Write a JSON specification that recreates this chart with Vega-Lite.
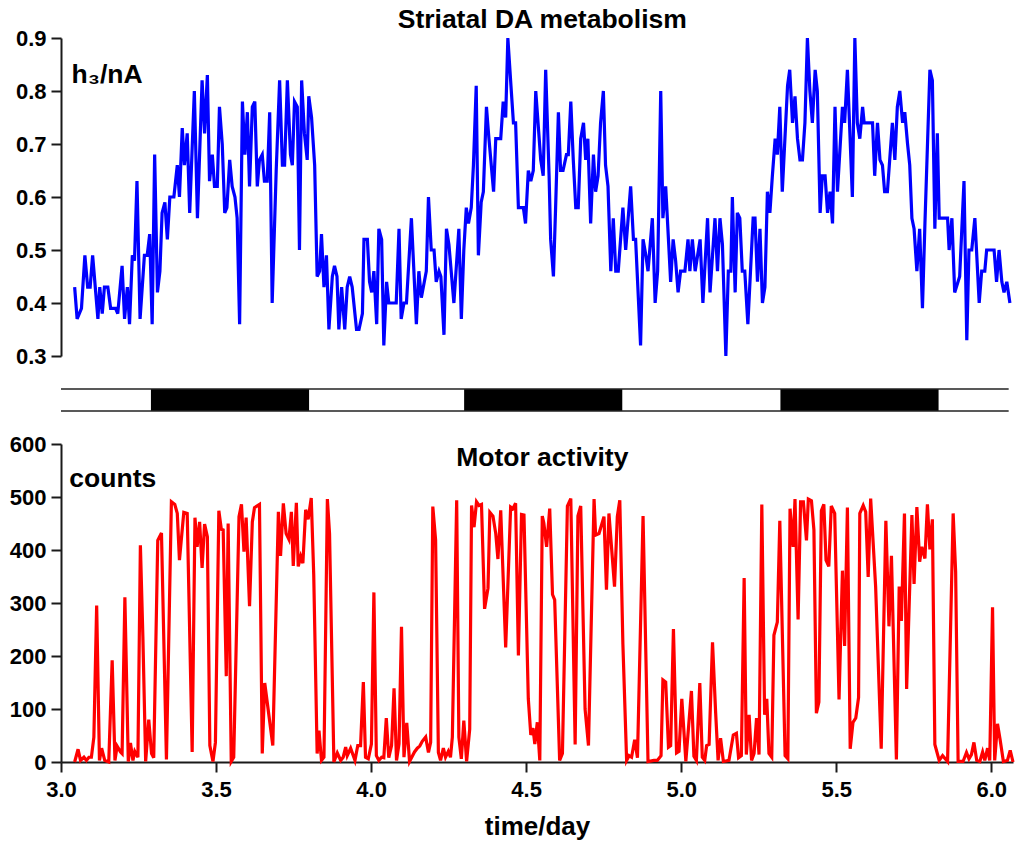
{
  "$schema": "https://vega.github.io/schema/vega-lite/v6.json",
  "background": "white",
  "padding": {"left": 9, "top": 6, "right": 5, "bottom": 5},
  "spacing": 33,
  "bounds": "flush",
  "datasets": {
    "da": [
      {"t":3.044,"v":0.43},{"t":3.052,"v":0.37},{"t":3.066,"v":0.39},{"t":3.077,"v":0.49},{"t":3.086,"v":0.43},{"t":3.094,"v":0.43},{"t":3.102,"v":0.49},{"t":3.119,"v":0.37},{"t":3.125,"v":0.43},{"t":3.133,"v":0.38},{"t":3.140,"v":0.43},{"t":3.151,"v":0.43},{"t":3.160,"v":0.39},{"t":3.176,"v":0.39},{"t":3.183,"v":0.38},{"t":3.197,"v":0.47},{"t":3.205,"v":0.37},{"t":3.214,"v":0.43},{"t":3.221,"v":0.36},{"t":3.230,"v":0.49},{"t":3.237,"v":0.48},{"t":3.245,"v":0.63},{"t":3.255,"v":0.37},{"t":3.269,"v":0.49},{"t":3.278,"v":0.49},{"t":3.286,"v":0.53},{"t":3.294,"v":0.36},{"t":3.302,"v":0.68},{"t":3.311,"v":0.42},{"t":3.319,"v":0.46},{"t":3.326,"v":0.57},{"t":3.335,"v":0.59},{"t":3.343,"v":0.52},{"t":3.351,"v":0.60},{"t":3.364,"v":0.60},{"t":3.375,"v":0.66},{"t":3.382,"v":0.60},{"t":3.391,"v":0.73},{"t":3.398,"v":0.66},{"t":3.407,"v":0.72},{"t":3.415,"v":0.57},{"t":3.430,"v":0.80},{"t":3.440,"v":0.56},{"t":3.455,"v":0.82},{"t":3.463,"v":0.72},{"t":3.472,"v":0.83},{"t":3.479,"v":0.63},{"t":3.488,"v":0.68},{"t":3.495,"v":0.62},{"t":3.504,"v":0.62},{"t":3.511,"v":0.77},{"t":3.520,"v":0.70},{"t":3.528,"v":0.57},{"t":3.535,"v":0.58},{"t":3.544,"v":0.67},{"t":3.552,"v":0.62},{"t":3.561,"v":0.60},{"t":3.568,"v":0.56},{"t":3.576,"v":0.36},{"t":3.585,"v":0.78},{"t":3.593,"v":0.68},{"t":3.601,"v":0.76},{"t":3.608,"v":0.62},{"t":3.617,"v":0.77},{"t":3.625,"v":0.78},{"t":3.633,"v":0.62},{"t":3.640,"v":0.67},{"t":3.649,"v":0.68},{"t":3.656,"v":0.63},{"t":3.665,"v":0.63},{"t":3.673,"v":0.76},{"t":3.681,"v":0.40},{"t":3.694,"v":0.65},{"t":3.705,"v":0.82},{"t":3.714,"v":0.66},{"t":3.721,"v":0.66},{"t":3.730,"v":0.82},{"t":3.740,"v":0.68},{"t":3.746,"v":0.66},{"t":3.753,"v":0.78},{"t":3.762,"v":0.77},{"t":3.769,"v":0.50},{"t":3.776,"v":0.82},{"t":3.785,"v":0.72},{"t":3.794,"v":0.67},{"t":3.799,"v":0.79},{"t":3.808,"v":0.75},{"t":3.818,"v":0.66},{"t":3.826,"v":0.45},{"t":3.834,"v":0.46},{"t":3.840,"v":0.53},{"t":3.848,"v":0.43},{"t":3.856,"v":0.49},{"t":3.864,"v":0.35},{"t":3.875,"v":0.45},{"t":3.882,"v":0.47},{"t":3.890,"v":0.45},{"t":3.896,"v":0.35},{"t":3.905,"v":0.43},{"t":3.915,"v":0.35},{"t":3.923,"v":0.43},{"t":3.931,"v":0.45},{"t":3.939,"v":0.43},{"t":3.953,"v":0.35},{"t":3.961,"v":0.35},{"t":3.972,"v":0.38},{"t":3.977,"v":0.52},{"t":3.988,"v":0.52},{"t":3.995,"v":0.44},{"t":4.002,"v":0.42},{"t":4.009,"v":0.46},{"t":4.018,"v":0.36},{"t":4.025,"v":0.54},{"t":4.034,"v":0.52},{"t":4.041,"v":0.32},{"t":4.050,"v":0.44},{"t":4.057,"v":0.40},{"t":4.081,"v":0.40},{"t":4.090,"v":0.54},{"t":4.097,"v":0.37},{"t":4.106,"v":0.40},{"t":4.114,"v":0.40},{"t":4.130,"v":0.56},{"t":4.146,"v":0.36},{"t":4.154,"v":0.46},{"t":4.162,"v":0.41},{"t":4.178,"v":0.46},{"t":4.185,"v":0.60},{"t":4.194,"v":0.50},{"t":4.203,"v":0.50},{"t":4.210,"v":0.44},{"t":4.219,"v":0.46},{"t":4.225,"v":0.45},{"t":4.235,"v":0.34},{"t":4.243,"v":0.54},{"t":4.251,"v":0.51},{"t":4.267,"v":0.40},{"t":4.283,"v":0.54},{"t":4.291,"v":0.37},{"t":4.299,"v":0.50},{"t":4.307,"v":0.58},{"t":4.314,"v":0.55},{"t":4.323,"v":0.58},{"t":4.330,"v":0.66},{"t":4.339,"v":0.81},{"t":4.346,"v":0.49},{"t":4.355,"v":0.59},{"t":4.362,"v":0.61},{"t":4.372,"v":0.77},{"t":4.380,"v":0.71},{"t":4.395,"v":0.61},{"t":4.402,"v":0.71},{"t":4.418,"v":0.71},{"t":4.426,"v":0.78},{"t":4.434,"v":0.75},{"t":4.441,"v":0.90},{"t":4.451,"v":0.81},{"t":4.459,"v":0.74},{"t":4.466,"v":0.74},{"t":4.475,"v":0.58},{"t":4.491,"v":0.58},{"t":4.498,"v":0.55},{"t":4.507,"v":0.65},{"t":4.515,"v":0.63},{"t":4.523,"v":0.65},{"t":4.531,"v":0.80},{"t":4.547,"v":0.67},{"t":4.555,"v":0.64},{"t":4.563,"v":0.84},{"t":4.574,"v":0.64},{"t":4.579,"v":0.52},{"t":4.588,"v":0.45},{"t":4.595,"v":0.58},{"t":4.604,"v":0.76},{"t":4.611,"v":0.65},{"t":4.619,"v":0.65},{"t":4.630,"v":0.68},{"t":4.636,"v":0.68},{"t":4.644,"v":0.78},{"t":4.652,"v":0.67},{"t":4.660,"v":0.58},{"t":4.668,"v":0.58},{"t":4.676,"v":0.71},{"t":4.685,"v":0.74},{"t":4.692,"v":0.67},{"t":4.699,"v":0.71},{"t":4.708,"v":0.55},{"t":4.717,"v":0.68},{"t":4.724,"v":0.61},{"t":4.732,"v":0.64},{"t":4.740,"v":0.74},{"t":4.749,"v":0.80},{"t":4.756,"v":0.66},{"t":4.764,"v":0.62},{"t":4.773,"v":0.46},{"t":4.781,"v":0.56},{"t":4.789,"v":0.46},{"t":4.797,"v":0.46},{"t":4.812,"v":0.58},{"t":4.821,"v":0.50},{"t":4.837,"v":0.62},{"t":4.846,"v":0.52},{"t":4.853,"v":0.52},{"t":4.869,"v":0.32},{"t":4.877,"v":0.52},{"t":4.886,"v":0.49},{"t":4.893,"v":0.46},{"t":4.907,"v":0.56},{"t":4.916,"v":0.40},{"t":4.924,"v":0.46},{"t":4.934,"v":0.80},{"t":4.941,"v":0.56},{"t":4.950,"v":0.62},{"t":4.966,"v":0.44},{"t":4.974,"v":0.52},{"t":4.982,"v":0.48},{"t":4.990,"v":0.42},{"t":4.998,"v":0.46},{"t":5.012,"v":0.46},{"t":5.022,"v":0.52},{"t":5.028,"v":0.46},{"t":5.036,"v":0.52},{"t":5.045,"v":0.46},{"t":5.061,"v":0.52},{"t":5.070,"v":0.40},{"t":5.085,"v":0.56},{"t":5.093,"v":0.42},{"t":5.109,"v":0.56},{"t":5.117,"v":0.46},{"t":5.125,"v":0.56},{"t":5.133,"v":0.51},{"t":5.144,"v":0.30},{"t":5.152,"v":0.46},{"t":5.160,"v":0.46},{"t":5.165,"v":0.60},{"t":5.174,"v":0.42},{"t":5.181,"v":0.57},{"t":5.189,"v":0.56},{"t":5.197,"v":0.46},{"t":5.205,"v":0.46},{"t":5.215,"v":0.36},{"t":5.232,"v":0.56},{"t":5.238,"v":0.56},{"t":5.246,"v":0.44},{"t":5.254,"v":0.54},{"t":5.262,"v":0.40},{"t":5.270,"v":0.43},{"t":5.278,"v":0.61},{"t":5.286,"v":0.57},{"t":5.294,"v":0.64},{"t":5.303,"v":0.71},{"t":5.310,"v":0.68},{"t":5.318,"v":0.77},{"t":5.326,"v":0.61},{"t":5.343,"v":0.81},{"t":5.350,"v":0.84},{"t":5.359,"v":0.74},{"t":5.367,"v":0.79},{"t":5.375,"v":0.71},{"t":5.383,"v":0.67},{"t":5.391,"v":0.67},{"t":5.399,"v":0.74},{"t":5.407,"v":0.90},{"t":5.415,"v":0.80},{"t":5.423,"v":0.74},{"t":5.432,"v":0.84},{"t":5.439,"v":0.80},{"t":5.448,"v":0.57},{"t":5.455,"v":0.64},{"t":5.464,"v":0.64},{"t":5.472,"v":0.57},{"t":5.480,"v":0.61},{"t":5.488,"v":0.55},{"t":5.496,"v":0.77},{"t":5.504,"v":0.61},{"t":5.520,"v":0.77},{"t":5.527,"v":0.74},{"t":5.536,"v":0.84},{"t":5.552,"v":0.60},{"t":5.560,"v":0.90},{"t":5.568,"v":0.74},{"t":5.576,"v":0.71},{"t":5.585,"v":0.77},{"t":5.590,"v":0.74},{"t":5.617,"v":0.74},{"t":5.624,"v":0.64},{"t":5.633,"v":0.74},{"t":5.641,"v":0.67},{"t":5.649,"v":0.66},{"t":5.656,"v":0.61},{"t":5.665,"v":0.61},{"t":5.681,"v":0.74},{"t":5.689,"v":0.67},{"t":5.697,"v":0.77},{"t":5.705,"v":0.80},{"t":5.714,"v":0.74},{"t":5.721,"v":0.76},{"t":5.730,"v":0.70},{"t":5.737,"v":0.66},{"t":5.744,"v":0.56},{"t":5.751,"v":0.54},{"t":5.760,"v":0.46},{"t":5.769,"v":0.54},{"t":5.778,"v":0.39},{"t":5.786,"v":0.55},{"t":5.802,"v":0.84},{"t":5.810,"v":0.82},{"t":5.818,"v":0.54},{"t":5.826,"v":0.72},{"t":5.832,"v":0.56},{"t":5.859,"v":0.56},{"t":5.864,"v":0.50},{"t":5.873,"v":0.56},{"t":5.882,"v":0.42},{"t":5.898,"v":0.45},{"t":5.912,"v":0.63},{"t":5.921,"v":0.33},{"t":5.928,"v":0.50},{"t":5.937,"v":0.50},{"t":5.947,"v":0.56},{"t":5.961,"v":0.40},{"t":5.969,"v":0.46},{"t":5.979,"v":0.46},{"t":5.985,"v":0.50},{"t":6.009,"v":0.50},{"t":6.017,"v":0.44},{"t":6.025,"v":0.50},{"t":6.034,"v":0.44},{"t":6.041,"v":0.42},{"t":6.050,"v":0.44},{"t":6.060,"v":0.40}
    ],
    "motor": [
      {"t":3.044,"c":0},{"t":3.055,"c":24},{"t":3.063,"c":3},{"t":3.074,"c":9},{"t":3.082,"c":3},{"t":3.090,"c":9},{"t":3.098,"c":9},{"t":3.106,"c":47},{"t":3.115,"c":295},{"t":3.124,"c":3},{"t":3.131,"c":26},{"t":3.141,"c":3},{"t":3.154,"c":0},{"t":3.165,"c":192},{"t":3.174,"c":3},{"t":3.181,"c":30},{"t":3.192,"c":19},{"t":3.197,"c":16},{"t":3.206,"c":311},{"t":3.217,"c":1},{"t":3.224,"c":36},{"t":3.232,"c":3},{"t":3.238,"c":20},{"t":3.248,"c":9},{"t":3.256,"c":409},{"t":3.264,"c":237},{"t":3.273,"c":1},{"t":3.283,"c":80},{"t":3.292,"c":16},{"t":3.299,"c":8},{"t":3.312,"c":418},{"t":3.324,"c":432},{"t":3.340,"c":5},{"t":3.356,"c":491},{"t":3.367,"c":486},{"t":3.375,"c":469},{"t":3.382,"c":381},{"t":3.396,"c":471},{"t":3.407,"c":469},{"t":3.423,"c":19},{"t":3.432,"c":461},{"t":3.439,"c":406},{"t":3.447,"c":453},{"t":3.455,"c":366},{"t":3.463,"c":449},{"t":3.472,"c":425},{"t":3.480,"c":31},{"t":3.490,"c":1},{"t":3.498,"c":37},{"t":3.509,"c":474},{"t":3.517,"c":439},{"t":3.523,"c":438},{"t":3.533,"c":162},{"t":3.539,"c":450},{"t":3.549,"c":1},{"t":3.557,"c":9},{"t":3.574,"c":463},{"t":3.582,"c":486},{"t":3.590,"c":397},{"t":3.597,"c":461},{"t":3.608,"c":294},{"t":3.617,"c":453},{"t":3.624,"c":480},{"t":3.640,"c":486},{"t":3.649,"c":16},{"t":3.657,"c":149},{"t":3.683,"c":31},{"t":3.701,"c":472},{"t":3.708,"c":389},{"t":3.717,"c":488},{"t":3.726,"c":431},{"t":3.735,"c":420},{"t":3.743,"c":472},{"t":3.749,"c":370},{"t":3.759,"c":489},{"t":3.765,"c":369},{"t":3.773,"c":388},{"t":3.780,"c":375},{"t":3.789,"c":476},{"t":3.797,"c":458},{"t":3.807,"c":498},{"t":3.815,"c":353},{"t":3.826,"c":16},{"t":3.832,"c":59},{"t":3.840,"c":3},{"t":3.848,"c":9},{"t":3.859,"c":496},{"t":3.866,"c":431},{"t":3.880,"c":0},{"t":3.891,"c":17},{"t":3.902,"c":3},{"t":3.910,"c":9},{"t":3.918,"c":28},{"t":3.923,"c":12},{"t":3.934,"c":26},{"t":3.948,"c":3},{"t":3.957,"c":31},{"t":3.966,"c":31},{"t":3.975,"c":151},{"t":3.982,"c":9},{"t":3.991,"c":6},{"t":4.001,"c":34},{"t":4.009,"c":320},{"t":4.017,"c":12},{"t":4.025,"c":3},{"t":4.034,"c":9},{"t":4.041,"c":8},{"t":4.049,"c":83},{"t":4.057,"c":8},{"t":4.066,"c":31},{"t":4.074,"c":139},{"t":4.082,"c":3},{"t":4.090,"c":34},{"t":4.098,"c":255},{"t":4.106,"c":9},{"t":4.115,"c":74},{"t":4.124,"c":1},{"t":4.140,"c":19},{"t":4.149,"c":26},{"t":4.157,"c":30},{"t":4.165,"c":39},{"t":4.176,"c":47},{"t":4.185,"c":18},{"t":4.192,"c":37},{"t":4.199,"c":482},{"t":4.208,"c":419},{"t":4.217,"c":18},{"t":4.224,"c":3},{"t":4.233,"c":26},{"t":4.240,"c":9},{"t":4.249,"c":20},{"t":4.256,"c":9},{"t":4.262,"c":47},{"t":4.276,"c":494},{"t":4.283,"c":47},{"t":4.291,"c":6},{"t":4.299,"c":78},{"t":4.308,"c":1},{"t":4.318,"c":62},{"t":4.324,"c":484},{"t":4.332,"c":443},{"t":4.340,"c":491},{"t":4.348,"c":484},{"t":4.356,"c":486},{"t":4.366,"c":289},{"t":4.377,"c":328},{"t":4.383,"c":471},{"t":4.393,"c":464},{"t":4.402,"c":431},{"t":4.409,"c":383},{"t":4.418,"c":475},{"t":4.434,"c":216},{"t":4.450,"c":481},{"t":4.457,"c":478},{"t":4.466,"c":488},{"t":4.475,"c":201},{"t":4.485,"c":467},{"t":4.493,"c":466},{"t":4.507,"c":119},{"t":4.515,"c":51},{"t":4.522,"c":64},{"t":4.528,"c":34},{"t":4.536,"c":75},{"t":4.544,"c":3},{"t":4.552,"c":464},{"t":4.557,"c":451},{"t":4.566,"c":406},{"t":4.576,"c":478},{"t":4.585,"c":316},{"t":4.592,"c":306},{"t":4.608,"c":3},{"t":4.617,"c":16},{"t":4.633,"c":483},{"t":4.644,"c":497},{"t":4.658,"c":33},{"t":4.667,"c":464},{"t":4.676,"c":483},{"t":4.690,"c":100},{"t":4.701,"c":31},{"t":4.719,"c":496},{"t":4.724,"c":428},{"t":4.735,"c":431},{"t":4.751,"c":463},{"t":4.759,"c":325},{"t":4.767,"c":469},{"t":4.785,"c":331},{"t":4.794,"c":463},{"t":4.802,"c":494},{"t":4.812,"c":222},{"t":4.824,"c":3},{"t":4.832,"c":12},{"t":4.840,"c":9},{"t":4.850,"c":42},{"t":4.859,"c":8},{"t":4.877,"c":464},{"t":4.893,"c":1},{"t":4.912,"c":3},{"t":4.923,"c":3},{"t":4.935,"c":12},{"t":4.941,"c":155},{"t":4.950,"c":151},{"t":4.959,"c":28},{"t":4.966,"c":31},{"t":4.975,"c":251},{"t":4.985,"c":17},{"t":4.993,"c":20},{"t":5.002,"c":119},{"t":5.015,"c":1},{"t":5.033,"c":134},{"t":5.041,"c":11},{"t":5.049,"c":3},{"t":5.060,"c":149},{"t":5.068,"c":9},{"t":5.076,"c":3},{"t":5.082,"c":31},{"t":5.090,"c":33},{"t":5.101,"c":226},{"t":5.111,"c":94},{"t":5.119,"c":3},{"t":5.127,"c":45},{"t":5.136,"c":1},{"t":5.154,"c":3},{"t":5.168,"c":51},{"t":5.178,"c":54},{"t":5.185,"c":8},{"t":5.194,"c":12},{"t":5.203,"c":347},{"t":5.210,"c":14},{"t":5.219,"c":89},{"t":5.227,"c":3},{"t":5.235,"c":16},{"t":5.243,"c":83},{"t":5.251,"c":14},{"t":5.260,"c":486},{"t":5.269,"c":89},{"t":5.276,"c":119},{"t":5.283,"c":16},{"t":5.292,"c":9},{"t":5.299,"c":239},{"t":5.310,"c":264},{"t":5.318,"c":455},{"t":5.335,"c":12},{"t":5.344,"c":6},{"t":5.351,"c":478},{"t":5.361,"c":406},{"t":5.367,"c":496},{"t":5.377,"c":269},{"t":5.385,"c":491},{"t":5.394,"c":491},{"t":5.404,"c":418},{"t":5.410,"c":496},{"t":5.420,"c":493},{"t":5.428,"c":438},{"t":5.436,"c":92},{"t":5.444,"c":113},{"t":5.452,"c":474},{"t":5.460,"c":486},{"t":5.467,"c":381},{"t":5.476,"c":369},{"t":5.484,"c":483},{"t":5.495,"c":469},{"t":5.509,"c":118},{"t":5.520,"c":361},{"t":5.527,"c":219},{"t":5.536,"c":480},{"t":5.545,"c":25},{"t":5.554,"c":75},{"t":5.563,"c":83},{"t":5.572,"c":122},{"t":5.576,"c":469},{"t":5.587,"c":484},{"t":5.595,"c":472},{"t":5.603,"c":349},{"t":5.611,"c":497},{"t":5.627,"c":331},{"t":5.645,"c":25},{"t":5.660,"c":455},{"t":5.670,"c":256},{"t":5.678,"c":389},{"t":5.694,"c":5},{"t":5.703,"c":331},{"t":5.710,"c":266},{"t":5.720,"c":469},{"t":5.727,"c":138},{"t":5.744,"c":466},{"t":5.751,"c":336},{"t":5.760,"c":481},{"t":5.769,"c":378},{"t":5.776,"c":406},{"t":5.786,"c":384},{"t":5.794,"c":486},{"t":5.802,"c":401},{"t":5.810,"c":458},{"t":5.818,"c":33},{"t":5.832,"c":3},{"t":5.843,"c":12},{"t":5.859,"c":1},{"t":5.877,"c":469},{"t":5.885,"c":359},{"t":5.893,"c":1},{"t":5.909,"c":1},{"t":5.920,"c":18},{"t":5.928,"c":6},{"t":5.936,"c":14},{"t":5.944,"c":37},{"t":5.953,"c":3},{"t":5.963,"c":1},{"t":5.972,"c":19},{"t":5.979,"c":3},{"t":5.988,"c":26},{"t":5.995,"c":3},{"t":6.004,"c":292},{"t":6.011,"c":3},{"t":6.020,"c":72},{"t":6.028,"c":44},{"t":6.039,"c":1},{"t":6.052,"c":3},{"t":6.061,"c":22},{"t":6.070,"c":0}
    ],
    "dark": [
      {"start":3.29,"end":3.80},{"start":4.30,"end":4.81},{"start":5.32,"end":5.83}
    ],
    "edges": [
      {"from":3.0,"to":6.056,"p":0},{"from":3.0,"to":6.056,"p":1}
    ]
  },
  "vconcat": [
    {
      "width": 952,
      "height": 318,
      "layer": [
        {
          "data": {"name": "da"},
          "mark": {"type": "line", "color": "#0000ff", "strokeWidth": 3.2},
          "encoding": {
            "x": {"field": "t", "type": "quantitative", "scale": {"domain": [3, 6.07], "nice": false, "zero": false}, "axis": null},
            "y": {"field": "v", "type": "quantitative", "scale": {"domain": [0.3, 0.9], "nice": false, "zero": false},
                  "axis": {"title": null, "values": [0.3, 0.4, 0.5, 0.6, 0.7, 0.8, 0.9], "format": ".1f", "labelPadding": 5}}
          }
        },
        {
          "data": {"values": [{"t": 4.552, "v": 0.919, "label": "Striatal DA metabolism"}]},
          "mark": {"type": "text", "align": "center", "baseline": "alphabetic", "fontSize": 26.5, "fontWeight": "bold", "font": "Liberation Sans", "color": "#000"},
          "encoding": {
            "x": {"field": "t", "type": "quantitative"},
            "y": {"field": "v", "type": "quantitative"},
            "text": {"field": "label"}
          }
        },
        {
          "data": {"values": [{"t": 3.034, "v": 0.816, "label": "h₃/nA"}]},
          "mark": {"type": "text", "align": "left", "baseline": "alphabetic", "fontSize": 26.5, "fontWeight": "bold", "font": "Liberation Sans", "color": "#000"},
          "encoding": {
            "x": {"field": "t", "type": "quantitative"},
            "y": {"field": "v", "type": "quantitative"},
            "text": {"field": "label"}
          }
        }
      ]
    },
    {
      "width": 952,
      "height": 22,
      "layer": [
        {
          "data": {"name": "dark"},
          "mark": {"type": "rect", "color": "#000000"},
          "encoding": {
            "x": {"field": "start", "type": "quantitative", "scale": {"domain": [3, 6.07], "nice": false, "zero": false}, "axis": null},
            "x2": {"field": "end"},
            "y": {"datum": 0, "type": "quantitative", "scale": {"domain": [0, 1], "nice": false}, "axis": null},
            "y2": {"datum": 1}
          }
        },
        {
          "data": {"name": "edges"},
          "mark": {"type": "rule", "color": "#222222", "strokeWidth": 1.6},
          "encoding": {
            "x": {"field": "from", "type": "quantitative"},
            "x2": {"field": "to"},
            "y": {"field": "p", "type": "quantitative"}
          }
        }
      ]
    },
    {
      "width": 952,
      "height": 318,
      "layer": [
        {
          "data": {"name": "motor"},
          "mark": {"type": "line", "color": "#ff0000", "strokeWidth": 3.2},
          "encoding": {
            "x": {"field": "t", "type": "quantitative", "scale": {"domain": [3, 6.07], "nice": false, "zero": false},
                  "axis": {"title": "time/day", "values": [3, 3.5, 4, 4.5, 5, 5.5, 6], "format": ".1f", "labelFlush": false, "labelOverlap": false, "labelPadding": 7, "titlePadding": 13}},
            "y": {"field": "c", "type": "quantitative", "scale": {"domain": [0, 600], "nice": false},
                  "axis": {"title": null, "values": [0, 100, 200, 300, 400, 500, 600], "labelPadding": 5}}
          }
        },
        {
          "data": {"values": [{"t": 4.552, "c": 558, "label": "Motor activity"}]},
          "mark": {"type": "text", "align": "center", "baseline": "alphabetic", "fontSize": 26.5, "fontWeight": "bold", "font": "Liberation Sans", "color": "#000"},
          "encoding": {
            "x": {"field": "t", "type": "quantitative"},
            "y": {"field": "c", "type": "quantitative"},
            "text": {"field": "label"}
          }
        },
        {
          "data": {"values": [{"t": 3.027, "c": 518, "label": "counts"}]},
          "mark": {"type": "text", "align": "left", "baseline": "alphabetic", "fontSize": 26.5, "fontWeight": "bold", "font": "Liberation Sans", "color": "#000"},
          "encoding": {
            "x": {"field": "t", "type": "quantitative"},
            "y": {"field": "c", "type": "quantitative"},
            "text": {"field": "label"}
          }
        }
      ]
    }
  ],
  "config": {
    "view": {"stroke": null},
    "axis": {
      "grid": false,
      "domainColor": "#1a1a1a",
      "domainWidth": 2,
      "tickColor": "#1a1a1a",
      "tickWidth": 2,
      "tickSize": 10,
      "labelFont": "Liberation Sans",
      "labelFontSize": 22,
      "labelFontWeight": "bold",
      "labelColor": "#000000",
      "titleFont": "Liberation Sans",
      "titleFontSize": 26,
      "titleFontWeight": "bold",
      "titleColor": "#000000"
    }
  }
}
